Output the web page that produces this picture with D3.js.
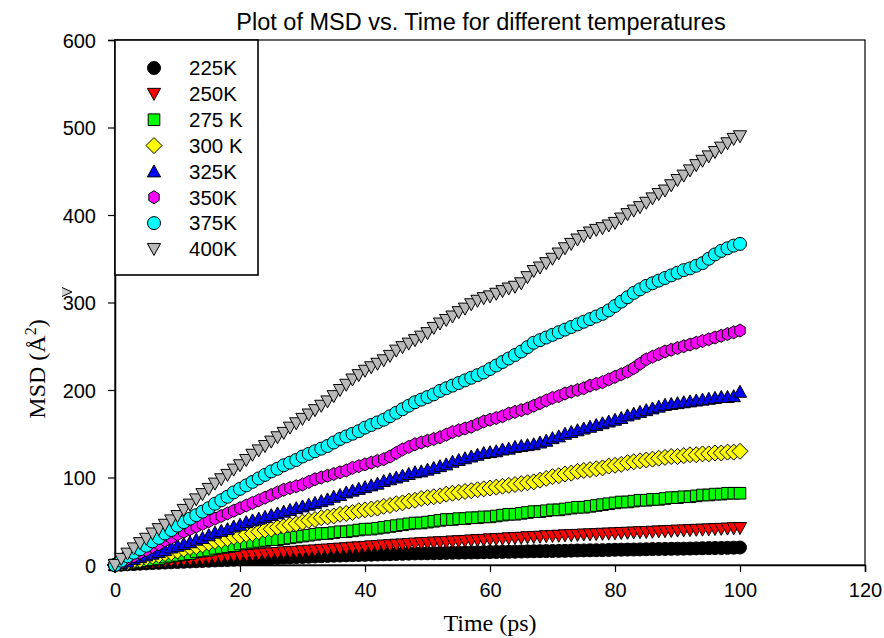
<!DOCTYPE html>
<html><head><meta charset="utf-8">
<script src="https://cdn.jsdelivr.net/npm/d3@7"></script>
<style>body{margin:0;background:#fff}svg{display:block}</style>
</head><body>
<script>
// ---- data ----
const seriesNames = ["225K","250K","275 K","300 K","325K","350K","375K","400K"];
const time = d3.range(0, 101); // 0..100 ps, step 1
const msd225 = [0,0.4,0.8,1.1,1.5,1.8,2.2,2.5,2.8,3.1,3.4,3.7,4,4.3,4.6,4.9,5.2,5.5,5.8,6.1,6.4,6.7,7,7.3,7.6,7.9,8.2,8.5,8.8,9,9.2,9.5,9.8,10.1,10.4,10.6,10.8,11,11.2,11.4,11.6,11.8,12,12.2,12.4,12.6,12.8,13,13.2,13.3,13.4,13.5,13.6,13.8,14,14.1,14.2,14.3,14.4,14.6,14.8,14.9,15,15.1,15.2,15.4,15.6,15.7,15.8,15.9,16,16.1,16.2,16.4,16.6,16.7,16.8,16.9,17,17.2,17.4,17.5,17.6,17.7,17.8,18,18.2,18.3,18.4,18.5,18.6,18.7,18.8,19,19.2,19.3,19.4,19.5,19.6,19.8,20];
const msd250 = [0,0.6,1.1,1.5,2.1,2.6,3.0,3.6,4.1,4.5,5.1,5.7,6.1,6.8,7.3,8.0,8.5,9.1,9.9,10.2,10.8,11.4,11.8,12.2,12.9,13.3,13.7,14.4,14.8,15.1,15.7,16.3,16.6,17.3,17.6,18.3,18.7,19.1,19.8,20.2,20.6,21.3,21.6,22.3,22.6,23.2,23.5,23.9,24.5,24.8,25.2,25.7,26.0,26.3,26.9,27.2,27.5,28.1,28.4,28.7,29.3,29.6,29.9,30.5,30.8,31.1,31.7,32.0,32.3,32.9,33.2,33.4,33.9,34.1,34.4,34.8,35.0,35.3,35.7,35.9,36.2,36.6,36.8,37.1,37.5,37.7,38.0,38.4,38.6,38.9,39.3,39.5,39.8,40.2,40.4,40.7,41.1,41.3,41.6,42.0,42.2];
const msd275 = [0,1,2,3,4,5,6,7,9,10,11,12,13,15,16,17,19,20,21,22,24,25,26,27,28,29,29,30,31,32,33,34,35,36,36,37,38,38,39,40,41,41,42,43,44,45,46,47,48,48,49,50,51,52,52,53,53,54,54,55,55,56,57,58,58,59,60,61,61,62,63,63,64,65,66,66,67,68,69,70,71,72,72,73,74,74,75,75,76,77,77,78,78,79,80,80,81,81,82,82,82];
const msd300 = [0,2,3,5,6,8,10,11,13,14,16,18,20,21,23,25,27,28,30,32,33,35,36,38,40,41,43,44,46,47,49,51,52,54,55,56,58,59,60,62,63,64,65,67,68,70,71,73,74,76,77,78,79,81,82,83,84,85,86,87,88,89,90,91,92,93,94,95,97,99,101,102,104,105,107,108,109,110,111,113,114,115,117,118,119,120,121,122,123,124,124,125,126,126,127,127,128,128,129,129,130];
const msd325 = [0,2,4,7,9,11,13,15,17,20,22,24,26,29,31,34,37,39,41,44,46,49,51,53,55,57,59,61,63,65,67,69,71,73,75,78,80,83,85,87,89,91,93,96,98,100,102,104,106,107,109,111,113,115,118,120,122,124,126,128,129,130,132,133,135,136,137,138,140,142,145,147,150,152,154,156,158,160,162,164,166,168,171,173,175,177,179,181,183,184,185,186,187,188,189,190,191,192,192,193,198];
const msd350 = [0,3,7,10,14,17,21,24,28,31,35,38,41,44,47,50,53,56,59,62,65,68,71,74,77,80,83,86,88,90,92,95,98,100,102,104,106,108,111,113,115,117,119,121,124,128,132,135,138,140,142,144,146,149,152,154,156,158,161,164,166,168,170,173,175,177,179,182,185,188,191,193,196,198,200,202,205,207,209,212,215,218,221,225,230,235,238,241,244,246,248,250,252,254,256,258,260,262,264,266,268];
const msd375 = [0,5,10,14,18,22,27,31,36,40,45,49,53,57,61,65,70,74,78,83,87,91,95,99,103,107,110,114,117,120,124,127,130,133,136,140,144,147,150,153,157,160,163,166,170,174,178,182,186,189,192,195,199,202,205,208,211,214,217,220,224,228,232,236,240,244,249,254,257,260,263,266,269,272,275,278,281,284,287,291,296,301,306,311,315,319,322,325,328,331,334,337,339,342,345,350,355,359,362,365,367];
const msd400 = [0,7,13,19,25,30,36,41,46,51,56,63,69,75,81,87,93,98,103,109,114,120,126,131,136,141,146,151,157,162,167,172,177,182,187,193,200,206,212,217,222,226,230,234,239,245,249,253,257,261,265,271,276,280,284,289,293,298,302,305,307,310,313,316,318,322,329,336,340,345,350,356,362,367,372,376,380,383,385,388,391,396,401,405,409,414,419,424,428,434,440,445,451,457,462,467,472,477,482,487,490];
const seriesValues = [msd225,msd250,msd275,msd300,msd325,msd350,msd375,msd400];
const xTicks = [0,20,40,60,80,100,120];
const yTicks = [0,100,200,300,400,500,600];
const shapes = ["circle","triDown","square","diamond","triUp","hexagon","circle","triDown"];
const fills = ["#000000","#ff0000","#00ff00","#ffff00","#0000ff","#ff00ff","#00ffff","#b9b9b9"];

// ---- layout ----
const W = 884, H = 638;
const m = {left:115, right:19, top:40, bottom:73};
const svg = d3.select("body").append("svg").attr("width",W).attr("height",H);
const x = d3.scaleLinear().domain([0,120]).range([m.left, W-m.right]);
const y = d3.scaleLinear().domain([0,600]).range([H-m.bottom, m.top]);
const SANS = "Arial, 'Liberation Sans', sans-serif";
const SERIF = "'Times New Roman', 'Liberation Serif', serif";

function shapePath(t){
  switch(t){
    case "circle": { const r=6.5; return `M${r},0A${r},${r} 0 1,1 ${-r},0A${r},${r} 0 1,1 ${r},0Z`; }
    case "square": { const a=5.8; return `M${-a},${-a}H${a}V${a}H${-a}Z`; }
    case "diamond": { const a=8; return `M0,${-a}L${a},0L0,${a}L${-a},0Z`; }
    case "triDown": return `M-6.6,-5.5L6.6,-5.5L0,6.5Z`;
    case "triUp": return `M-6.6,5.5L6.6,5.5L0,-6.5Z`;
    case "hexagon": { const r=6.5; let p=""; for(let i=0;i<6;i++){const ang=Math.PI/3*i - Math.PI/2; p+=(i?"L":"M")+(r*Math.cos(ang)*0.92).toFixed(2)+","+(r*Math.sin(ang)).toFixed(2);} return p+"Z"; }
  }
}

// frame
svg.append("rect").attr("x",x(0)).attr("y",y(600)).attr("width",x(120)-x(0)).attr("height",y(0)-y(600))
  .attr("fill","none").attr("stroke","#000").attr("stroke-width",1.2);

// axes
const xAxis = d3.axisBottom(x).tickValues(xTicks).tickSizeOuter(0).tickSize(7).tickPadding(6);
const yAxis = d3.axisLeft(y).tickValues(yTicks).tickSizeOuter(0).tickSize(7).tickPadding(12);
const gx = svg.append("g").attr("transform",`translate(0,${y(0)})`).call(xAxis);
const gy = svg.append("g").attr("transform",`translate(${x(0)},0)`).call(yAxis);
[gx,gy].forEach(g=>{
  g.select(".domain").attr("stroke","#000").attr("stroke-width",1.5);
  g.selectAll(".tick line").attr("stroke","#000").attr("stroke-width",1.2);
  g.selectAll(".tick text").attr("font-family",SANS).attr("font-size",20).attr("fill","#000");
});
gx.selectAll(".tick text").attr("dy","0.95em");
gy.selectAll(".tick text").attr("dy","0.36em");

// series
seriesValues.forEach((vals,i)=>{
  svg.append("g").selectAll("path").data(time.map((t,k)=>({t, v: vals[k]})))
    .join("path")
    .attr("d", shapePath(shapes[i]))
    .attr("transform", d=>`translate(${x(d.t)},${y(d.v)})`)
    .attr("fill", fills[i]).attr("stroke","#000").attr("stroke-width",1);
});

// legend
const lg = svg.append("g");
lg.append("rect").attr("x",x(0)).attr("y",y(600)).attr("width",143).attr("height",235)
  .attr("fill","#fff").attr("stroke","#000").attr("stroke-width",1.6);
seriesNames.forEach((n,i)=>{
  const yy = 68 + i*25.85;
  lg.append("path").attr("d", shapePath(shapes[i])).attr("transform",`translate(154,${yy})`)
    .attr("fill",fills[i]).attr("stroke","#000").attr("stroke-width",1);
  lg.append("text").attr("x",189).attr("y",yy).attr("dy","0.36em").text(n)
    .attr("font-family",SANS).attr("font-size",20.5).attr("fill","#000");
});

// stray marker left of the 300 label, as in the reference
svg.append("path").attr("d","M-5,-4.5L5,0L-5,4.5").attr("transform","translate(67,292)")
  .attr("fill","#d0d0d0").attr("stroke","#000").attr("stroke-width",1);

// title & labels
svg.append("text").attr("x",481).attr("y",30).attr("text-anchor","middle")
  .attr("font-family",SANS).attr("font-size",23.5)
  .text("Plot of MSD vs. Time for different temperatures");
svg.append("text").attr("x",490).attr("y",631).attr("text-anchor","middle")
  .attr("font-family",SERIF).attr("font-size",24)
  .text("Time (ps)");
const yl = svg.append("text").attr("transform","translate(45,369) rotate(-90)").attr("text-anchor","middle")
  .attr("font-family",SERIF).attr("font-size",24);
yl.append("tspan").text("MSD (Å");
yl.append("tspan").attr("dy",-9).attr("font-size",16).text("2");
yl.append("tspan").attr("dy",9).text(")");
</script>
</body></html>
